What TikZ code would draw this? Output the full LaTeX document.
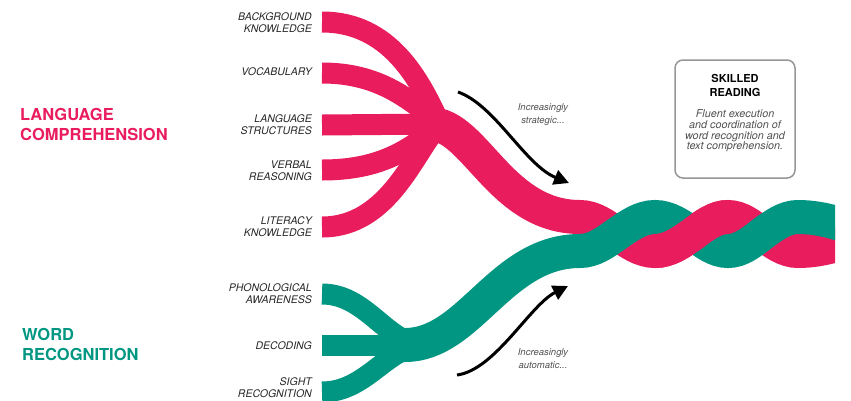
\documentclass[tikz,border=0pt]{standalone}
\usepackage{fontspec}
\setmainfont{TeX Gyre Heros}
\usetikzlibrary{arrows.meta}
\definecolor{ropepink}{RGB}{233,28,94}
\definecolor{ropeteal}{RGB}{0,150,129}
\definecolor{boxgray}{RGB}{150,150,150}
\definecolor{notegray}{RGB}{80,80,80}
\begin{document}
\begin{tikzpicture}[x=1pt, y=-1pt,
    strand/.style={line width=21pt, line cap=butt},
    rope/.style={line width=34pt, line cap=butt},
    skill/.style={anchor=east, align=right, inner sep=0pt, text=black!85,
      font=\fontsize{10.5}{12}\selectfont\itshape},
    group/.style={anchor=west, align=left, inner sep=0pt,
      font=\fontsize{16.5}{20}\selectfont\bfseries},
    note/.style={align=center, inner sep=0pt, text=notegray,
      font=\fontsize{9.5}{13}\selectfont\itshape},
    trend/.style={line width=3pt, -{Triangle[length=15pt,width=15pt]}}]
  \useasboundingbox (0,0) rectangle (851,400);
  % the two groups
  \node[group, text=ropepink] (lang) at (20,124.5) {LANGUAGE\\COMPREHENSION};
  \node[group, text=ropeteal] (word) at (22,344) {WORD\\RECOGNITION};
  % the strands' labels
  \node[skill] (bg) at (312,23) {BACKGROUND\\KNOWLEDGE};
  \node[skill] (vocab) at (312,72) {VOCABULARY};
  \node[skill] (struct) at (312,124.5) {LANGUAGE\\STRUCTURES};
  \node[skill] (verbal) at (312,170.5) {VERBAL\\REASONING};
  \node[skill] (literacy) at (312,226.5) {LITERACY\\KNOWLEDGE};
  \node[skill] (phono) at (312,294) {PHONOLOGICAL\\AWARENESS};
  \node[skill] (decode) at (312,346) {DECODING};
  \node[skill] (sight) at (312,387.5) {SIGHT\\RECOGNITION};
  % where the strands meet
  \coordinate (pinkjoin) at (440,124);
  \coordinate (tealjoin) at (420,345);
  \begin{scope}
    \clip (0,0) rectangle (835,400);
    % language comprehension strands
    \draw[strand, ropepink] (322,22) .. controls (390,22) and (420,80) .. (pinkjoin);
    \draw[strand, ropepink] (322,73) .. controls (380,73) and (410,100) .. (pinkjoin);
    \draw[strand, ropepink] (322,125) -- (pinkjoin);
    \draw[strand, ropepink] (322,170) .. controls (380,170) and (410,150) .. (pinkjoin);
    \draw[strand, ropepink] (322,227) .. controls (390,227) and (415,150) .. (pinkjoin);
    % word recognition strands
    \draw[strand, ropeteal] (322,294) .. controls (365,294) and (385,340) .. (tealjoin);
    \draw[strand, ropeteal] (322,345) -- (tealjoin);
    \draw[strand, ropeteal] (322,392) .. controls (365,392) and (385,350) .. (tealjoin);
    % the two ropes and the twist
    \draw[rope, ropepink] (415,124) -- (430,124) .. controls (475,124) and (500,217) .. (580,217)
      cos (617,234) sin (655,251) cos (693,234) sin (728,217) cos (762,234) sin (798,251) cos (868,234);
    \draw[rope, ropeteal] (395,345) -- (405,345) .. controls (470,345) and (500,251) .. (580,251)
      cos (617,234) sin (655,217) cos (693,234) sin (728,251) cos (762,234) sin (798,217) cos (868,234);
    \draw[rope, ropepink] (655,251) cos (693,234) sin (728,217);
  \end{scope}
  % trends
  \coordinate (strat-a) at (458,92);
  \coordinate (strat-b) at (569,183);
  \coordinate (auto-a) at (457,375);
  \coordinate (auto-b) at (568,286);
  \draw[trend] (strat-a) .. controls (495,105) and (525,165) .. (strat-b);
  \draw[trend] (auto-a) .. controls (495,370) and (530,305) .. (auto-b);
  \node[note] (strat) at (543,114.5) {Increasingly\\strategic...};
  \node[note] (auto) at (543,358.5) {Increasingly\\automatic...};
  % skilled reading
  \node[draw=boxgray, line width=1.5pt, rounded corners=8pt,
    minimum width=120pt, minimum height=118pt] (skilled) at (735,119) {};
  \node[align=center, inner sep=0pt, font=\fontsize{11}{14}\selectfont\bfseries]
    (skilledtitle) at (735,85) {SKILLED\\READING};
  \node[align=center, inner sep=0pt, text=notegray, font=\fontsize{10.8}{10.8}\selectfont\itshape]
    (skilledtext) at (735,131) {Fluent execution\\and coordination of\\word recognition and\\text comprehension.};
\end{tikzpicture}
\end{document}
